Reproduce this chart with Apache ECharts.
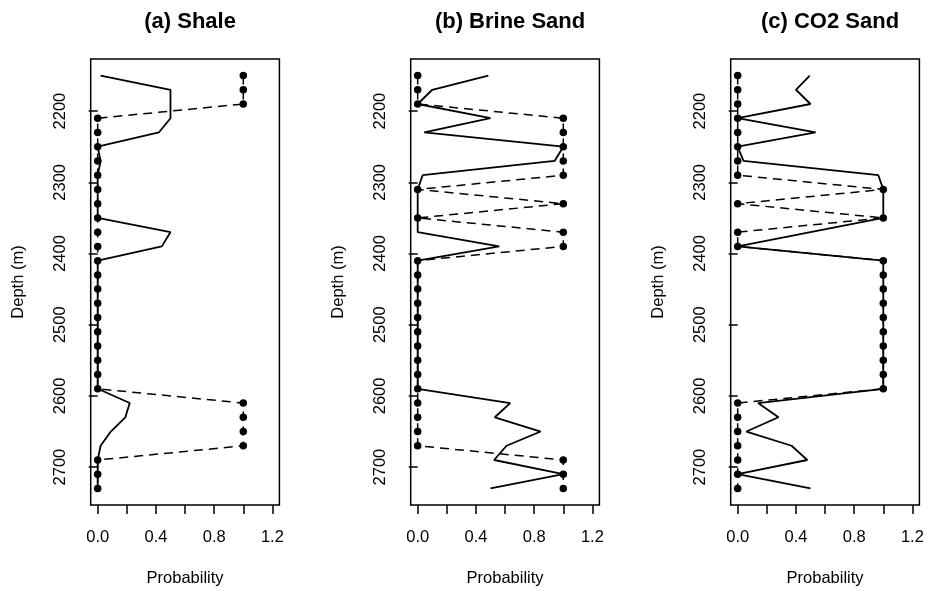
<!DOCTYPE html>
<html>
<head>
<meta charset="utf-8">
<script src="https://cdn.jsdelivr.net/npm/echarts@6/dist/echarts.min.js"></script>
<style>
  html, body { margin: 0; padding: 0; background: #fff; }
  #chart { width: 928px; height: 593px; }
</style>
</head>
<body>
<div id="chart"></div>
<script>
// Sample depths (m), every 20 m
const depths = [2150, 2170, 2190, 2210, 2230, 2250, 2270, 2290, 2310, 2330,
                2350, 2370, 2390, 2410, 2430, 2450, 2470, 2490, 2510, 2530,
                2550, 2570, 2590, 2610, 2630, 2650, 2670, 2690, 2710, 2730];

// Observed facies indicators (1 = facies present)
const shaleObs = [1, 1, 1, 0, 0, 0, 0, 0, 0, 0,
                  0, 0, 0, 0, 0, 0, 0, 0, 0, 0,
                  0, 0, 0, 1, 1, 1, 1, 0, 0, 0];
const brineObs = [0, 0, 0, 1, 1, 1, 1, 1, 0, 1,
                  0, 1, 1, 0, 0, 0, 0, 0, 0, 0,
                  0, 0, 0, 0, 0, 0, 0, 1, 1, 1];
const co2Obs   = [0, 0, 0, 0, 0, 0, 0, 0, 1, 0,
                  1, 0, 0, 1, 1, 1, 1, 1, 1, 1,
                  1, 1, 1, 0, 0, 0, 0, 0, 0, 0];

// Predicted facies probabilities
const shaleProb = [0.02, 0.50, 0.50, 0.50, 0.42, 0.00, 0.02, 0.00, 0.00, 0.00,
                   0.00, 0.50, 0.44, 0.00, 0.00, 0.00, 0.00, 0.00, 0.00, 0.00,
                   0.00, 0.00, 0.00, 0.22, 0.19, 0.09, 0.02, 0.00, 0.00, 0.00];
const brineProb = [0.485, 0.10, 0.00, 0.50, 0.045, 1.00, 0.94, 0.034, 0.00, 0.00,
                   0.00, 0.00, 0.56, 0.00, 0.00, 0.00, 0.00, 0.00, 0.00, 0.00,
                   0.00, 0.00, 0.00, 0.635, 0.53, 0.845, 0.61, 0.525, 1.00, 0.50];
const co2Prob   = [0.495, 0.40, 0.50, 0.00, 0.535, 0.00, 0.04, 0.966, 1.00, 1.00,
                   1.00, 0.50, 0.00, 1.00, 1.00, 1.00, 1.00, 1.00, 1.00, 1.00,
                   1.00, 1.00, 1.00, 0.14, 0.28, 0.06, 0.37, 0.478, 0.00, 0.50];

const panelTitles = ['(a) Shale', '(b) Brine Sand', '(c) CO2 Sand'];
const xTicks = [0, 0.2, 0.4, 0.6, 0.8, 1.0, 1.2];
const xTickLabels = [0, 0.4, 0.8, 1.2];
const yTicks = [2200, 2300, 2400, 2500, 2600, 2700];

const obsSets = [shaleObs, brineObs, co2Obs];
const probSets = [shaleProb, brineProb, co2Prob];

const FONT = '"Liberation Sans", Arial, Helvetica, sans-serif';
const panelLeft = [90.7, 410.7, 730.7];
const panelWidth = 188.7;
const panelTop = 59;
const panelHeight = 446;

// data range padded by 4% on each side
const xMin = -0.048, xMax = 1.248;
const yMin = 2150 - 0.04 * 580, yMax = 2730 + 0.04 * 580;

const grids = [], xAxes = [], yAxes = [], series = [], titles = [];

for (let p = 0; p < 3; p++) {
  grids.push({
    left: panelLeft[p], top: panelTop, width: panelWidth, height: panelHeight,
    show: true, borderColor: '#000', borderWidth: 1.5, backgroundColor: 'transparent'
  });
  xAxes.push({
    gridIndex: p, type: 'value', min: xMin, max: xMax,
    name: 'Probability', nameLocation: 'middle', nameGap: 65,
    nameTextStyle: { fontFamily: FONT, fontSize: 16.5, color: '#000' },
    axisLine: { show: false },
    axisTick: { show: true, inside: false, length: 9, customValues: xTicks,
                lineStyle: { color: '#000', width: 1.5 } },
    axisLabel: { show: true, customValues: xTickLabels, margin: 24,
                 fontFamily: FONT, fontSize: 16.5, color: '#000',
                 formatter: v => Number(v).toFixed(1) },
    splitLine: { show: false }
  });
  yAxes.push({
    gridIndex: p, type: 'value', min: yMin, max: yMax, inverse: true,
    name: 'Depth (m)', nameLocation: 'middle', nameGap: 64, nameRotate: 90,
    nameTextStyle: { fontFamily: FONT, fontSize: 16.5, color: '#000' },
    axisLine: { show: false },
    axisTick: { show: true, inside: false, length: 9, customValues: yTicks,
                lineStyle: { color: '#000', width: 1.5 } },
    axisLabel: { show: true, customValues: yTicks, rotate: 90, margin: 22,
                 fontFamily: FONT, fontSize: 16.5, color: '#000',
                 formatter: v => String(Math.round(v)) },
    splitLine: { show: false }
  });
  titles.push({
    text: panelTitles[p], left: panelLeft[p] + panelWidth / 2, top: 6,
    textAlign: 'center',
    textStyle: { fontFamily: FONT, fontSize: 22, fontWeight: 'bold', color: '#000' }
  });
  // observed indicator: dashed line with points
  series.push({
    type: 'line', xAxisIndex: p, yAxisIndex: p,
    data: depths.map((d, i) => [obsSets[p][i], d]),
    symbol: 'circle', symbolSize: 7.5, showAllSymbol: true,
    itemStyle: { color: '#000' },
    lineStyle: { color: '#000', width: 1.5, type: [9, 6] },
    silent: true
  });
  // predicted probability: solid line
  series.push({
    type: 'line', xAxisIndex: p, yAxisIndex: p,
    data: depths.map((d, i) => [probSets[p][i], d]),
    showSymbol: false, symbol: 'none',
    lineStyle: { color: '#000', width: 1.8 },
    silent: true
  });
}

const chart = echarts.init(document.getElementById('chart'), null, { renderer: 'canvas' });
chart.setOption({
  animation: false,
  backgroundColor: '#fff',
  title: titles,
  grid: grids,
  xAxis: xAxes,
  yAxis: yAxes,
  series: series
});
</script>
</body>
</html>
